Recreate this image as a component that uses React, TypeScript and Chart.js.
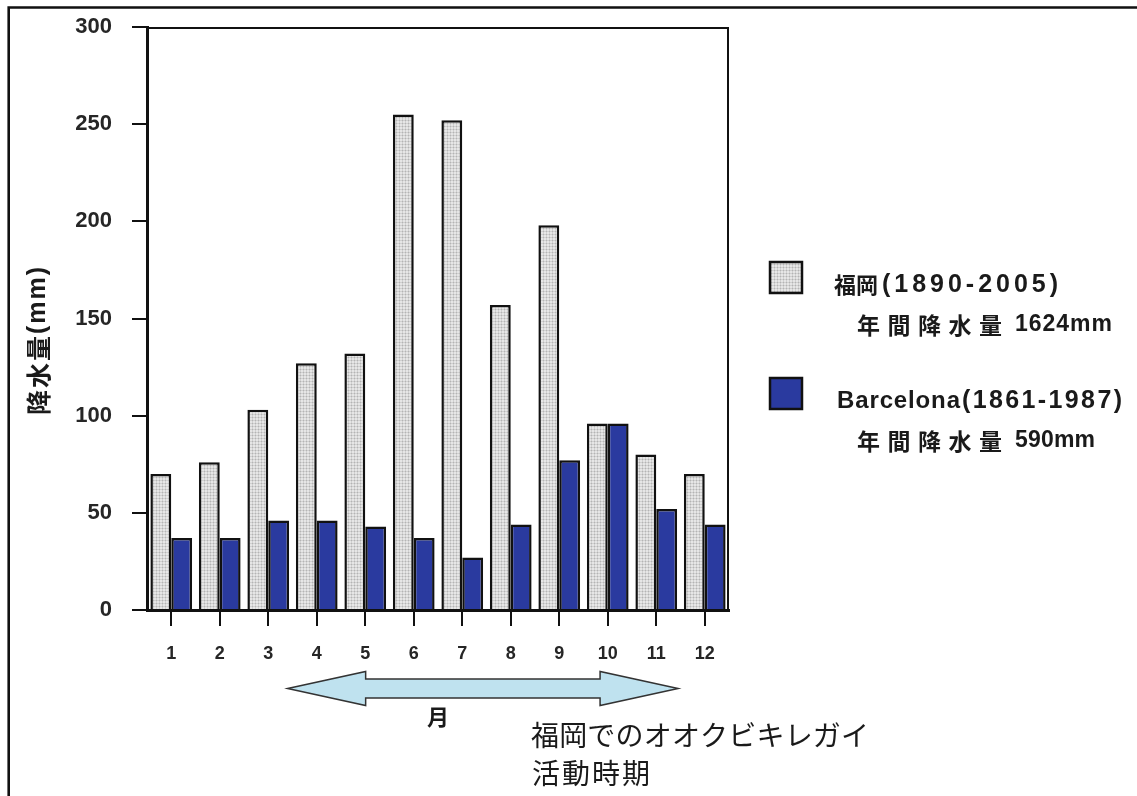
import React, { useEffect, useRef } from 'react';
import { Chart, registerables } from 'chart.js';

Chart.register(...registerables);

// ---- data ----
const months = ['1', '2', '3', '4', '5', '6', '7', '8', '9', '10', '11', '12'];
const fukuokaRain = [70, 76, 103, 127, 132, 255, 252, 157, 198, 96, 80, 70];
const barcelonaRain = [37, 37, 46, 46, 43, 37, 27, 44, 77, 96, 52, 44];
const seriesCities = ['福岡', 'Barcelona'];
const seriesPeriods = ['(1890-2005)', '(1861-1987)'];
const annualLabel = '年間降水量';
const annualTotals = ['1624mm', '590mm'];
const yMin = 0;
const yMax = 300;
const yStep = 50;
const yTitle = '降水量(mm)';
const xTitle = '月';
const noteLines = ['福岡でのオオクビキレガイ', '活動時期'];
// activity period of the snail, in month-index units on the category axis
const activityStart = 2.4;
const activityEnd = 10.45;

const W = 1137;
const H = 796;
const SANS = "'Liberation Sans', 'Noto Sans CJK JP', sans-serif";
const CJK = "'Noto Sans CJK JP', 'Liberation Sans', sans-serif";

function makePattern(): CanvasPattern | string {
  const c = document.createElement('canvas');
  c.width = 3;
  c.height = 3;
  const g = c.getContext('2d');
  if (!g) return '#d6d6d6';
  g.fillStyle = '#e6e6e6';
  g.fillRect(0, 0, 3, 3);
  g.fillStyle = '#d0d0d0';
  g.fillRect(0, 0, 3, 1);
  g.fillRect(0, 0, 1, 3);
  g.fillStyle = '#b4b4b4';
  g.fillRect(0, 0, 1, 1);
  const p = g.createPattern(c, 'repeat');
  return p || '#d6d6d6';
}

function isCJK(ch: string) {
  return /[\u3000-\u9fff\uff00-\uffef]/.test(ch);
}

// draw text char by char, Latin and CJK in their own fonts, spread to a target width
function drawRuns(
  ctx: CanvasRenderingContext2D,
  text: string,
  x: number,
  y: number,
  width: number,
  latinFont: string,
  cjkFont: string
) {
  const chars = Array.from(text);
  const widths = chars.map((ch) => {
    ctx.font = isCJK(ch) ? cjkFont : latinFont;
    return ctx.measureText(ch).width;
  });
  const natural = widths.reduce((a, b) => a + b, 0);
  const gap = chars.length > 1 ? (width - natural) / (chars.length - 1) : 0;
  let cx = x;
  chars.forEach((ch, i) => {
    ctx.font = isCJK(ch) ? cjkFont : latinFont;
    ctx.fillText(ch, cx, y);
    cx += widths[i] + gap;
  });
}

const decorPlugin = {
  id: 'decor',
  afterDraw(chart: any) {
    const { ctx, chartArea: ca, scales } = chart;
    const xs = scales.x;
    ctx.save();

    // outer frame (top and left edges visible)
    ctx.strokeStyle = '#111';
    ctx.lineWidth = 2.6;
    ctx.beginPath();
    ctx.moveTo(W, 7.5);
    ctx.lineTo(8.7, 7.5);
    ctx.lineTo(8.7, H);
    ctx.stroke();

    // plot box: top and right
    ctx.lineWidth = 2;
    ctx.beginPath();
    ctx.moveTo(ca.left, ca.top + 1);
    ctx.lineTo(ca.right - 1, ca.top + 1);
    ctx.lineTo(ca.right - 1, ca.bottom);
    ctx.stroke();

    // y axis title (rotated)
    ctx.save();
    ctx.translate(38, 341);
    ctx.rotate(-Math.PI / 2);
    ctx.fillStyle = '#1a1a1a';
    ctx.textBaseline = 'middle';
    ctx.textAlign = 'left';
    drawRuns(ctx, yTitle, -74, 0, 148, `bold 25px ${SANS}`, `bold 25px ${CJK}`);
    ctx.restore();

    // legend
    ctx.textBaseline = 'middle';
    ctx.textAlign = 'left';
    const ds = chart.data.datasets;
    const legendTop = [262, 378];
    const cityX = [834, 837];
    const cityW = [44, 123];
    const periodX = [882, 962];
    const periodW = [176, 160];
    const totalW = [97, 80];
    for (let i = 0; i < ds.length; i++) {
      const top = legendTop[i];
      ctx.fillStyle = ds[i].backgroundColor;
      ctx.fillRect(770, top, 32, 31);
      ctx.strokeStyle = '#111';
      ctx.lineWidth = 2.5;
      ctx.strokeRect(770, top, 32, 31);
      ctx.fillStyle = '#1a1a1a';
      const y1 = top + 23;
      const y2 = top + 63;
      drawRuns(ctx, seriesCities[i], cityX[i], y1, cityW[i], `bold 24px ${SANS}`, `bold 22px ${CJK}`);
      drawRuns(ctx, seriesPeriods[i], periodX[i], y1, periodW[i], `bold 25px ${SANS}`, `bold 22px ${CJK}`);
      drawRuns(ctx, annualLabel, 857, y2, 145, `bold 23px ${SANS}`, `bold 23px ${CJK}`);
      drawRuns(ctx, annualTotals[i], 1015, y2, totalW[i], `bold 23px ${SANS}`, `bold 22px ${CJK}`);
    }

    // activity-period double arrow
    const xL = xs.getPixelForValue(activityStart);
    const xR = xs.getPixelForValue(activityEnd);
    const yc = ca.bottom + 78.5;
    const head = 78;
    const hh = 17;
    const sh = 9.5;
    ctx.beginPath();
    ctx.moveTo(xL, yc);
    ctx.lineTo(xL + head, yc - hh);
    ctx.lineTo(xL + head, yc - sh);
    ctx.lineTo(xR - head, yc - sh);
    ctx.lineTo(xR - head, yc - hh);
    ctx.lineTo(xR, yc);
    ctx.lineTo(xR - head, yc + hh);
    ctx.lineTo(xR - head, yc + sh);
    ctx.lineTo(xL + head, yc + sh);
    ctx.lineTo(xL + head, yc + hh);
    ctx.closePath();
    ctx.fillStyle = '#bfe2ef';
    ctx.fill();
    ctx.strokeStyle = '#333';
    ctx.lineWidth = 1.5;
    ctx.stroke();

    // note text
    ctx.fillStyle = '#1a1a1a';
    ctx.textBaseline = 'middle';
    drawRuns(ctx, noteLines[0], 531, 735, 338, `28px ${SANS}`, `28px ${CJK}`);
    drawRuns(ctx, noteLines[1], 532, 773, 118, `28px ${SANS}`, `28px ${CJK}`);

    ctx.restore();
  },
};

export default function App() {
  const ref = useRef<HTMLCanvasElement | null>(null);

  useEffect(() => {
    const canvas = ref.current;
    if (!canvas) return;
    const pattern = makePattern();
    const chart = new Chart(canvas, {
      type: 'bar',
      data: {
        labels: months,
        datasets: [
          {
            label: seriesCities[0] + seriesPeriods[0],
            data: fukuokaRain,
            backgroundColor: pattern as any,
            borderColor: '#111',
            borderWidth: 2.5,
            categoryPercentage: 0.86,
            barPercentage: 1.0,
          },
          {
            label: seriesCities[1] + seriesPeriods[1],
            data: barcelonaRain,
            backgroundColor: '#2a3a9f',
            borderColor: '#111',
            borderWidth: 2.5,
            categoryPercentage: 0.86,
            barPercentage: 1.0,
          },
        ],
      },
      options: {
        responsive: false,
        animation: false,
        devicePixelRatio: 1,
        layout: { padding: { left: 8, top: 27, right: W - 729, bottom: 66 } },
        plugins: {
          legend: { display: false },
          tooltip: { enabled: false },
          title: { display: false },
        },
        scales: {
          x: {
            afterFit: (s: any) => {
              s.height = 120;
              s.paddingLeft = 0;
              s.paddingRight = 0;
            },
            grid: {
              display: true,
              drawOnChartArea: false,
              drawTicks: true,
              tickLength: 16,
              offset: false,
              color: '#111',
              lineWidth: 2,
            },
            border: { display: true, color: '#111', width: 3 },
            ticks: {
              padding: 17,
              color: '#262626',
              font: { family: SANS, size: 18, weight: 'bold' },
              maxRotation: 0,
            },
            title: {
              display: true,
              text: xTitle,
              color: '#1a1a1a',
              font: { family: CJK, size: 22, weight: 'bold' },
              padding: { top: 0, bottom: 0 },
            },
          },
          y: {
            min: yMin,
            max: yMax,
            afterFit: (s: any) => {
              s.width = 139;
              s.paddingTop = 0;
              s.paddingBottom = 0;
            },
            grid: {
              display: true,
              drawOnChartArea: false,
              drawTicks: true,
              tickLength: 15,
              color: '#111',
              lineWidth: 2,
            },
            border: { display: true, color: '#111', width: 3 },
            ticks: {
              stepSize: yStep,
              padding: 20,
              color: '#262626',
              font: { family: SANS, size: 22, weight: 'bold' },
            },
          },
        },
      },
      plugins: [decorPlugin],
    });
    return () => chart.destroy();
  }, []);

  return (
    <div style={{ position: 'fixed', left: 0, top: 0, width: W, height: H, background: '#fff' }}>
      <canvas ref={ref} width={W} height={H} style={{ width: W, height: H, display: 'block' }} />
    </div>
  );
}
